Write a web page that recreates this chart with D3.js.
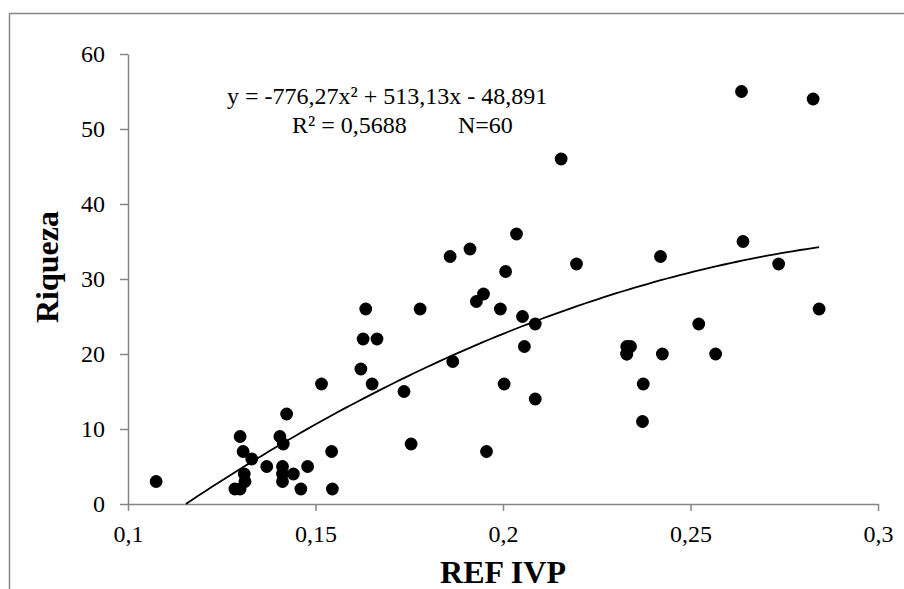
<!DOCTYPE html>
<html>
<head>
<meta charset="utf-8">
<script src="https://cdn.jsdelivr.net/npm/d3@7"></script>
<style>
  body { margin: 0; background: #fff; }
  svg { display: block; }
</style>
</head>
<body>
<script>
// valeurs (REF IVP en x, Riqueza en y)
const refIvp = [0.1075, 0.1285, 0.1299, 0.1299, 0.1307, 0.1310, 0.1312, 0.1330, 0.1370, 0.1405,
  0.1414, 0.1412, 0.1412, 0.1412, 0.1423, 0.1441, 0.1461, 0.1479, 0.1516, 0.1543,
  0.1545, 0.1621, 0.1627, 0.1634, 0.1651, 0.1664, 0.1736, 0.1755, 0.1779, 0.1859,
  0.1866, 0.1912, 0.1929, 0.1948, 0.1956, 0.1993, 0.2003, 0.2007, 0.2036, 0.2052,
  0.2057, 0.2086, 0.2086, 0.2155, 0.2196, 0.2330, 0.2340, 0.2330, 0.2372, 0.2374,
  0.2420, 0.2425, 0.2522, 0.2567, 0.2636, 0.2640, 0.2735, 0.2827, 0.2843, 0.2330]
const riqueza = [3, 2, 2, 9, 7, 4, 3, 6, 5, 9,
  8, 5, 4, 3, 12, 4, 2, 5, 16, 7,
  2, 18, 22, 26, 16, 22, 15, 8, 26, 33,
  19, 34, 27, 28, 7, 26, 16, 31, 36, 25,
  21, 24, 14, 46, 32, 21, 21, 20, 11, 16,
  33, 20, 24, 20, 55, 35, 32, 54, 26, 20]

const xTicks = [0.1, 0.15, 0.2, 0.25, 0.3]
const xTickLabels = ["0,1", "0,15", "0,2", "0,25", "0,3"]
const yTicks = [0, 10, 20, 30, 40, 50, 60]

// courbe de tendance polynomiale (a x² + b x + c)
const trendCoef = [-776.27, 513.13, -48.891]
const eqLine1 = "y = -776,27x² + 513,13x - 48,891"
const eqLine2 = "R² = 0,5688"
const eqN = "N=60"

const font = "'Times New Roman', 'Liberation Serif', serif"
const grey = "#868686"

let margin = { top: 54, right: 26, bottom: 85, left: 128 },
  width = 904 - margin.left - margin.right,
  height = 589 - margin.top - margin.bottom

const root = d3.select("body")
  .append("svg")
  .attr("width", 904)
  .attr("height", 589)

// cadre (seulement haut et gauche visibles)
root.append("path")
  .attr("d", "M9.5,600 V13.5 H910")
  .attr("fill", "none")
  .attr("stroke", grey)
  .attr("stroke-width", 1.5)

let svg = root.append("g")
  .attr("transform", "translate(" + margin.left + "," + margin.top + ")")

let x = d3.scaleLinear().domain([0.1, 0.3]).range([0, width])
let y = d3.scaleLinear().domain([0, 60]).range([height, 0])

//axe des x
let gx = svg.append("g")
  .attr("transform", "translate(0," + height + ")")
  .call(d3.axisBottom(x).tickValues(xTicks)
    .tickFormat((d, i) => xTickLabels[i])
    .tickSize(7).tickSizeOuter(0).tickPadding(14))
//axe des y
let gy = svg.append("g")
  .call(d3.axisLeft(y).tickValues(yTicks)
    .tickSize(8).tickSizeOuter(0).tickPadding(15))

;[gx, gy].forEach(g => {
  g.select(".domain").attr("stroke", grey).attr("stroke-width", 1.5)
  g.selectAll(".tick line").attr("stroke", grey).attr("stroke-width", 1.5)
  g.selectAll(".tick text")
    .attr("fill", "#000")
    .style("font-family", font)
    .style("font-size", "24px")
})

// tendance : de y=0 jusqu'au dernier point
const f = v => trendCoef[0] * v * v + trendCoef[1] * v + trendCoef[2]
const disc = trendCoef[1] ** 2 - 4 * trendCoef[0] * trendCoef[2]
const x0 = (-trendCoef[1] + Math.sqrt(disc)) / (2 * trendCoef[0])
const x1 = d3.max(refIvp)
const trend = d3.range(0, 101).map(i => x0 + (x1 - x0) * i / 100)

svg.append("path")
  .datum(trend)
  .attr("fill", "none")
  .attr("stroke", "#000")
  .attr("stroke-width", 1.8)
  .attr("d", d3.line().x(d => x(d)).y(d => y(f(d))))

// points
svg.selectAll("circle")
  .data(refIvp)
  .enter()
  .append("circle")
  .attr("cx", d => x(d))
  .attr("cy", (d, i) => y(riqueza[i]))
  .attr("r", 6.4)
  .attr("fill", "#000")

// equation
const eq = root.append("text")
  .style("font-family", font)
  .style("font-size", "24px")
  .attr("fill", "#000")
eq.append("tspan").attr("x", 227).attr("y", 104).text(eqLine1)
eq.append("tspan").attr("x", 292).attr("y", 133).text(eqLine2)
eq.append("tspan").attr("x", 458).attr("y", 133).text(eqN)

// titres des axes
root.append("text")
  .attr("x", margin.left + width / 2)
  .attr("y", 583)
  .attr("text-anchor", "middle")
  .style("font-family", font)
  .style("font-size", "32px")
  .style("font-weight", "bold")
  .text("REF IVP")

root.append("text")
  .attr("transform", "translate(58,267)rotate(-90)")
  .attr("text-anchor", "middle")
  .style("font-family", font)
  .style("font-size", "32px")
  .style("font-weight", "bold")
  .text("Riqueza")
</script>
</body>
</html>
